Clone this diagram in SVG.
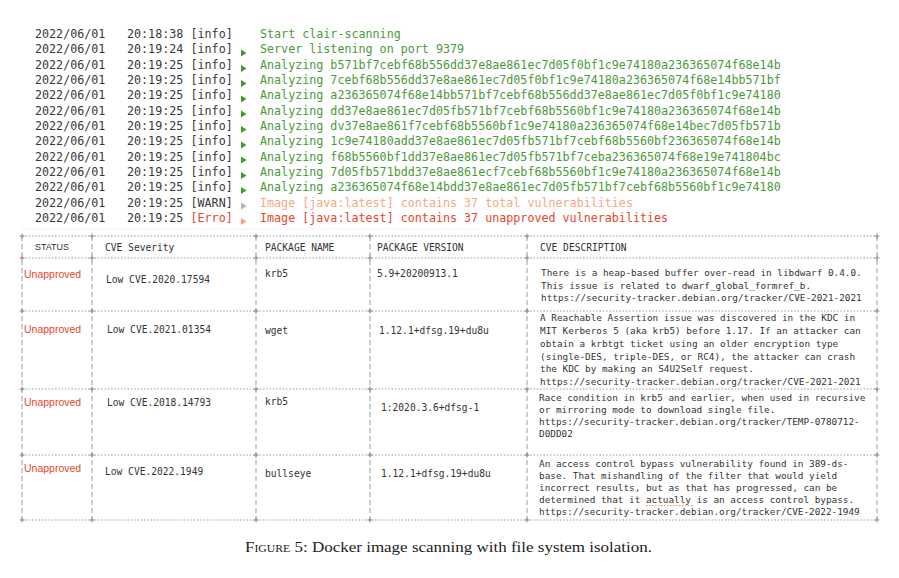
<svg xmlns="http://www.w3.org/2000/svg" width="899" height="578" viewBox="0 0 899 578">
<defs>
<style>
.mono{font-family:"DejaVu Sans Mono","Liberation Mono",monospace;}
.log{font-size:11.7px;fill:#383838;}
.ok{fill:#4a9a3a;}
.warn{fill:#f6a883;}
.err{fill:#e8452c;}
.cell{font-size:9.6px;fill:#333;}
.desc{font-size:9.35px;fill:#333;}
.st{font-family:"Liberation Sans","Noto Sans",sans-serif;font-size:10.5px;fill:#e8452c;}
.hd{font-family:"Liberation Sans","Noto Sans",sans-serif;font-size:9.8px;fill:#333;}
.hl{stroke:#9a9a9a;stroke-width:1;stroke-dasharray:1.5 1.8;fill:none;}
.vl{stroke:#9a9a9a;stroke-width:1;stroke-dasharray:5 3;fill:none;}
.pl{stroke:#8a8a8a;stroke-width:1;fill:none;}
</style>
<polygon id="arr" points="0,-3.5 5.5,0 0,3.5"/>
<path id="plus" d="M-2.5,0H2.5M0,-2.5V2.5"/>
</defs>

<g id="log" class="mono log">
<g id="line1"><text y="38"><tspan x="35">2022/06/01</tspan><tspan x="127">20:18:38</tspan><tspan x="190.5">[info]</tspan><tspan x="260" class="ok">Start clair-scanning</tspan></text></g>
<g id="line2"><text y="53.3"><tspan x="35">2022/06/01</tspan><tspan x="127">20:19:24</tspan><tspan x="190.5">[info]</tspan><tspan x="260" class="ok">Server listening on port 9379</tspan></text></g>
<g id="line3"><text y="68.7"><tspan x="35">2022/06/01</tspan><tspan x="127">20:19:25</tspan><tspan x="190.5">[info]</tspan><tspan x="260" class="ok">Analyzing b571bf7cebf68b556dd37e8ae861ec7d05f0bf1c9e74180a236365074f68e14b</tspan></text></g>
<g id="line4"><text y="84"><tspan x="35">2022/06/01</tspan><tspan x="127">20:19:25</tspan><tspan x="190.5">[info]</tspan><tspan x="260" class="ok">Analyzing 7cebf68b556dd37e8ae861ec7d05f0bf1c9e74180a236365074f68e14bb571bf</tspan></text></g>
<g id="line5"><text y="99.3"><tspan x="35">2022/06/01</tspan><tspan x="127">20:19:25</tspan><tspan x="190.5">[info]</tspan><tspan x="260" class="ok">Analyzing a236365074f68e14bb571bf7cebf68b556dd37e8ae861ec7d05f0bf1c9e74180</tspan></text></g>
<g id="line6"><text y="114.7"><tspan x="35">2022/06/01</tspan><tspan x="127">20:19:25</tspan><tspan x="190.5">[info]</tspan><tspan x="260" class="ok">Analyzing dd37e8ae861ec7d05fb571bf7cebf68b5560bf1c9e74180a236365074f68e14b</tspan></text></g>
<g id="line7"><text y="130"><tspan x="35">2022/06/01</tspan><tspan x="127">20:19:25</tspan><tspan x="190.5">[info]</tspan><tspan x="260" class="ok">Analyzing dv37e8ae861f7cebf68b5560bf1c9e74180a236365074f68e14bec7d05fb571b</tspan></text></g>
<g id="line8"><text y="145.3"><tspan x="35">2022/06/01</tspan><tspan x="127">20:19:25</tspan><tspan x="190.5">[info]</tspan><tspan x="260" class="ok">Analyzing 1c9e74180add37e8ae861ec7d05fb571bf7cebf68b5560bf236365074f68e14b</tspan></text></g>
<g id="line9"><text y="160.6"><tspan x="35">2022/06/01</tspan><tspan x="127">20:19:25</tspan><tspan x="190.5">[info]</tspan><tspan x="260" class="ok">Analyzing f68b5560bf1dd37e8ae861ec7d05fb571bf7ceba236365074f68e19e741804bc</tspan></text></g>
<g id="line10"><text y="176"><tspan x="35">2022/06/01</tspan><tspan x="127">20:19:25</tspan><tspan x="190.5">[info]</tspan><tspan x="260" class="ok">Analyzing 7d05fb571bdd37e8ae861ecf7cebf68b5560bf1c9e74180a236365074f68e14b</tspan></text></g>
<g id="line11"><text y="191.3"><tspan x="35">2022/06/01</tspan><tspan x="127">20:19:25</tspan><tspan x="190.5">[info]</tspan><tspan x="260" class="ok">Analyzing a236365074f68e14bdd37e8ae861ec7d05fb571bf7cebf68b5560bf1c9e74180</tspan></text></g>
<g id="line12"><text y="206.6"><tspan x="35">2022/06/01</tspan><tspan x="127">20:19:25</tspan><tspan x="190.5">[WARN]</tspan><tspan x="260" class="warn">Image [java:latest] contains 37 total vulnerabilities</tspan></text></g>
<g id="line13"><text y="222"><tspan x="35">2022/06/01</tspan><tspan x="127">20:19:25</tspan><tspan x="190.5" class="err">[Erro]</tspan><tspan x="260" class="err">Image [java:latest] contains 37 unapproved vulnerabilities</tspan></text></g>
</g>

<g id="log-arrows">
<g fill="#3d9a2c">
<use href="#arr" x="241" y="53"/>
<use href="#arr" x="241" y="68.5"/>
<use href="#arr" x="241" y="83.5"/>
<use href="#arr" x="241" y="99"/>
<use href="#arr" x="241" y="114"/>
<use href="#arr" x="241" y="129.5"/>
<use href="#arr" x="241" y="145"/>
<use href="#arr" x="241" y="160"/>
<use href="#arr" x="241" y="175.5"/>
<use href="#arr" x="241" y="190.5"/>
</g>
<use href="#arr" x="241" y="206" fill="#b4b4b4"/>
<use href="#arr" x="241" y="221.5" fill="#f3a77a"/>
</g>

<line x1="22" y1="229" x2="480" y2="229" stroke="#e2e2e2" stroke-width="1" stroke-dasharray="1.5 2"/>

<g id="table-grid">
<path class="hl" d="M22,236H877M22,258H877M22,311H877M22,389H877M22,455H877M22,520H877"/>
<path class="vl" d="M22,236V520M92,236V520M256,236V520M370,236V520M527,236V520M877,236V520"/>
<g class="pl">
<use href="#plus" x="22" y="236"/><use href="#plus" x="92" y="236"/><use href="#plus" x="256" y="236"/><use href="#plus" x="370" y="236"/><use href="#plus" x="527" y="236"/><use href="#plus" x="877" y="236"/>
<use href="#plus" x="22" y="258"/><use href="#plus" x="92" y="258"/><use href="#plus" x="256" y="258"/><use href="#plus" x="370" y="258"/><use href="#plus" x="527" y="258"/><use href="#plus" x="877" y="258"/>
<use href="#plus" x="22" y="311"/><use href="#plus" x="92" y="311"/><use href="#plus" x="256" y="311"/><use href="#plus" x="370" y="311"/><use href="#plus" x="527" y="311"/><use href="#plus" x="877" y="311"/>
<use href="#plus" x="22" y="389"/><use href="#plus" x="92" y="389"/><use href="#plus" x="256" y="389"/><use href="#plus" x="370" y="389"/><use href="#plus" x="527" y="389"/><use href="#plus" x="877" y="389"/>
<use href="#plus" x="22" y="455"/><use href="#plus" x="92" y="455"/><use href="#plus" x="256" y="455"/><use href="#plus" x="370" y="455"/><use href="#plus" x="527" y="455"/><use href="#plus" x="877" y="455"/>
<use href="#plus" x="22" y="520"/><use href="#plus" x="92" y="520"/><use href="#plus" x="256" y="520"/><use href="#plus" x="370" y="520"/><use href="#plus" x="527" y="520"/><use href="#plus" x="877" y="520"/>
</g>
</g>

<g id="table-header">
<text class="hd" x="35" y="249.5" textLength="34" lengthAdjust="spacingAndGlyphs">STATUS</text>
<text class="mono cell" x="105" y="250.5">CVE Severity</text>
<text class="mono cell" x="265" y="250.5">PACKAGE NAME</text>
<text class="mono cell" x="377" y="250.5">PACKAGE VERSION</text>
<text class="mono cell" x="540" y="250.5">CVE DESCRIPTION</text>
</g>

<g id="row1">
<text class="st" x="24" y="277.5">Unapproved</text>
<text class="mono cell" x="106" y="282.5">Low CVE.2020.17594</text>
<text class="mono cell" x="265" y="276.5">krb5</text>
<text class="mono cell" x="377" y="276.5">5.9+20200913.1</text>
<text class="mono desc"><tspan x="541" y="276.2">There is a heap-based buffer over-read in libdwarf 0.4.0.</tspan><tspan x="541" y="288.7">This issue is related to dwarf_global_formref_b.</tspan><tspan x="541" y="301.2">https://security-tracker.debian.org/tracker/CVE-2021-2021</tspan></text>
</g>

<g id="row2">
<text class="st" x="24" y="332.5">Unapproved</text>
<text class="mono cell" x="107" y="333">Low CVE.2021.01354</text>
<text class="mono cell" x="265" y="333.5">wget</text>
<text class="mono cell" x="379" y="333.5">1.12.1+dfsg.19+du8u</text>
<text class="mono desc"><tspan x="540" y="321.2">A Reachable Assertion issue was discovered in the KDC in</tspan><tspan x="540" y="334">MIT Kerberos 5 (aka krb5) before 1.17. If an attacker can</tspan><tspan x="540" y="346.8">obtain a krbtgt ticket using an older encryption type</tspan><tspan x="540" y="359.5">(single-DES, triple-DES, or RC4), the attacker can crash</tspan><tspan x="540" y="372.2">the KDC by making an S4U2Self request.</tspan><tspan x="540" y="385">https://security-tracker.debian.org/tracker/CVE-2021-2021</tspan></text>
</g>

<g id="row3">
<text class="st" x="24" y="405.5">Unapproved</text>
<text class="mono cell" x="107" y="405.5">Low CVE.2018.14793</text>
<text class="mono cell" x="265" y="404.5">krb5</text>
<text class="mono cell" x="381" y="410.5">1:2020.3.6+dfsg-1</text>
<text class="mono desc"><tspan x="539" y="401.2">Race condition in krb5 and earlier, when used in recursive</tspan><tspan x="539" y="413.2">or mirroring mode to download single file.</tspan><tspan x="539" y="425.2">https://security-tracker.debian.org/tracker/TEMP-0780712-</tspan><tspan x="539" y="437.2">D0DD02</tspan></text>
</g>

<g id="row4">
<text class="st" x="24" y="471.5">Unapproved</text>
<text class="mono cell" x="105" y="474.5">Low CVE.2022.1949</text>
<text class="mono cell" x="265" y="476.5">bullseye</text>
<text class="mono cell" x="381" y="476.5">1.12.1+dfsg.19+du8u</text>
<text class="mono desc"><tspan x="539" y="467.2">An access control bypass vulnerability found in 389-ds-</tspan><tspan x="539" y="479.2">base. That mishandling of the filter that would yield</tspan><tspan x="539" y="491.2">incorrect results, but as that has progressed, can be</tspan><tspan x="539" y="503.2">determined that it actually is an access control bypass.</tspan><tspan x="539" y="515.2">https://security-tracker.debian.org/tracker/CVE-2022-1949</tspan></text>
<line x1="646" y1="505.5" x2="693" y2="505.5" stroke="#e0a050" stroke-width="1" stroke-dasharray="1.5 1.5"/>
</g>

<g id="caption">
<text x="245" y="552" font-family="Liberation Serif,'DejaVu Serif',serif" font-size="14.5" fill="#222" textLength="407" lengthAdjust="spacingAndGlyphs"><tspan font-variant="small-caps">Figure</tspan> 5: Docker image scanning with file system isolation.</text>
</g>
</svg>
